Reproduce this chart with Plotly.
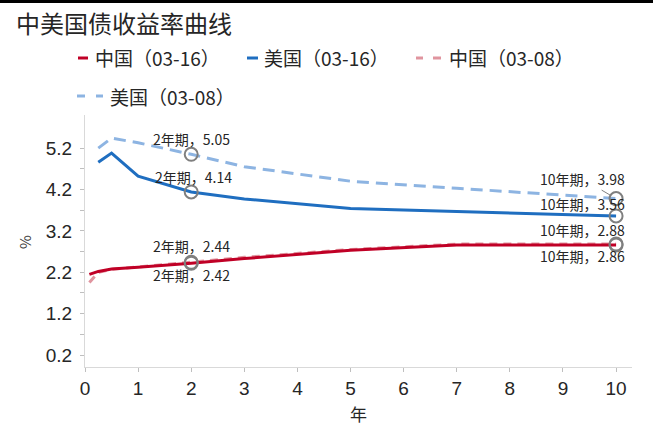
import plotly.graph_objects as go

# ---------------- data ----------------
cn_tenor = [0.083, 0.25, 0.5, 1, 2, 3, 5, 7, 10]
us_tenor = [0.25, 0.5, 1, 2, 3, 5, 7, 10]

cn_0316 = [2.15, 2.22, 2.28, 2.32, 2.42, 2.53, 2.73, 2.86, 2.86]
us_0316 = [4.86, 5.08, 4.52, 4.14, 3.97, 3.74, 3.67, 3.56]
cn_0308 = [1.95, 2.20, 2.27, 2.33, 2.44, 2.56, 2.75, 2.88, 2.88]
us_0308 = [5.20, 5.44, 5.33, 5.05, 4.75, 4.40, 4.23, 3.98]

names = ["中国（03-16）", "美国（03-16）", "中国（03-08）", "美国（03-08）"]
colors = ["#C00026", "#1F6EC0", "#E0959F", "#8DB4E2"]
dashes = ["solid", "solid", "8px,6px", "12px,7px"]

x_ticks = list(range(0, 11))
y_ticks = [0.2, 1.2, 2.2, 3.2, 4.2, 5.2]
y_minor = [0.7, 1.7, 2.7, 3.7, 4.7]

title = "中美国债收益率曲线"
x_title = "年"
y_title = "%"

# ---------------- layout geometry ----------------
W, H = 653, 425
L, R, T, B = 85, 21, 115, 58
PW, PH = W - L - R, H - T - B

def px(x):
    return (x - L) / PW

def py(y):
    return (H - B - y) / PH

FONT = "Noto Sans CJK SC"

fig = go.Figure()
series = [(cn_tenor, cn_0316), (us_tenor, us_0316), (cn_tenor, cn_0308), (us_tenor, us_0308)]
order = [2, 3, 0, 1]
for i in order:
    xs, ys = series[i]
    fig.add_trace(go.Scatter(
        x=xs, y=ys, mode="lines", name=names[i], showlegend=False,
        line=dict(color=colors[i], width=3, dash=dashes[i]),
        hoverinfo="skip",
    ))

# highlighted points (2Y and 10Y)
labels = []
for i, (xs, ys) in enumerate(series):
    for t in (2, 10):
        v = ys[xs.index(t)]
        labels.append((i, t, v))

fig.add_trace(go.Scatter(
    x=[l[1] for l in labels], y=[l[2] for l in labels], mode="markers",
    marker=dict(symbol="circle-open", size=13, color="#7F7F7F", line=dict(width=2, color="#7F7F7F")),
    showlegend=False, hoverinfo="skip",
))

# label offsets (pixels) per series and tenor
offs = {
    (0, 2): (0, -12), (2, 2): (0, 16),
    (1, 2): (2, 15), (3, 2): (0, 15),
    (0, 10): (-34, -11), (2, 10): (-34, 14),
    (1, 10): (-34, 12),
}
LBL = dict(family=FONT, size=14, color="#262626")
for (i, t, v) in labels:
    txt = f"{t}年期，{v:.2f}"
    if (i, t) == (3, 10):
        fig.add_annotation(x=t, y=v, text=txt, showarrow=True, arrowhead=0, arrowwidth=1,
                           arrowcolor="#7F7F7F", ax=-34, ay=-20, standoff=6, font=LBL)
    else:
        dx, dy = offs[(i, t)]
        fig.add_annotation(x=t, y=v, text=txt, showarrow=False, xshift=dx, yshift=dy, font=LBL)

# title
fig.add_annotation(xref="paper", yref="paper", x=px(14), y=py(22), xanchor="left", yanchor="middle",
                   text=title, showarrow=False, font=dict(family=FONT, size=24, color="#262626"))
# axis titles
fig.add_annotation(xref="paper", yref="paper", x=px(24), y=py(242), xanchor="center", yanchor="middle",
                   text=y_title, textangle=-90, showarrow=False, font=dict(family=FONT, size=15, color="#404040"))
fig.add_annotation(xref="paper", yref="paper", x=px(358), y=py(413), xanchor="center", yanchor="middle",
                   text=x_title, showarrow=False, font=dict(family=FONT, size=17, color="#262626"))

# custom legend
leg = [
    (0, 58, [(78, 88)], 93),
    (1, 58, [(247, 258)], 262),
    (2, 58, [(416, 423), (433, 441)], 447),
    (3, 96, [(77, 85), (96, 103)], 108),
]
shapes = []
for i, yy, segs, tx in leg:
    for a, b in segs:
        shapes.append(dict(type="line", xref="paper", yref="paper", x0=px(a), x1=px(b), y0=py(yy), y1=py(yy),
                           line=dict(color=colors[i], width=3)))
    fig.add_annotation(xref="paper", yref="paper", x=px(tx), y=py(yy), xanchor="left", yanchor="middle",
                       text=names[i], showarrow=False, font=dict(family=FONT, size=19, color="#262626"))

# top black bar
shapes.append(dict(type="rect", xref="paper", yref="paper", x0=px(0), x1=px(W), y0=py(3), y1=py(0),
                   fillcolor="black", line=dict(width=0)))

fig.update_layout(
    width=W, height=H, margin=dict(l=L, r=R, t=T, b=B),
    paper_bgcolor="white", plot_bgcolor="white", shapes=shapes,
    font=dict(family="Liberation Sans, Arial", size=18, color="#262626"),
)
fig.update_xaxes(range=[0, 10.3], tickvals=x_ticks, ticks="outside", ticklen=4, tickcolor="#BFBFBF",
                 showline=True, linecolor="#D9D9D9", linewidth=1, showgrid=False, zeroline=False,
                 ticklabelstandoff=0, tickfont=dict(size=19, color="#262626"))
fig.update_yaxes(range=[-0.09, 6.0], tickvals=y_ticks, ticks="outside", ticklen=4, tickcolor="#BFBFBF",
                 showline=True, linecolor="#D9D9D9", linewidth=1, showgrid=False, zeroline=False,
                 ticklabelstandoff=4, tickfont=dict(size=19, color="#262626"),
                 minor=dict(tickvals=y_minor, ticks="outside", ticklen=4, tickcolor="#BFBFBF"))

fig.write_html("out.html")
